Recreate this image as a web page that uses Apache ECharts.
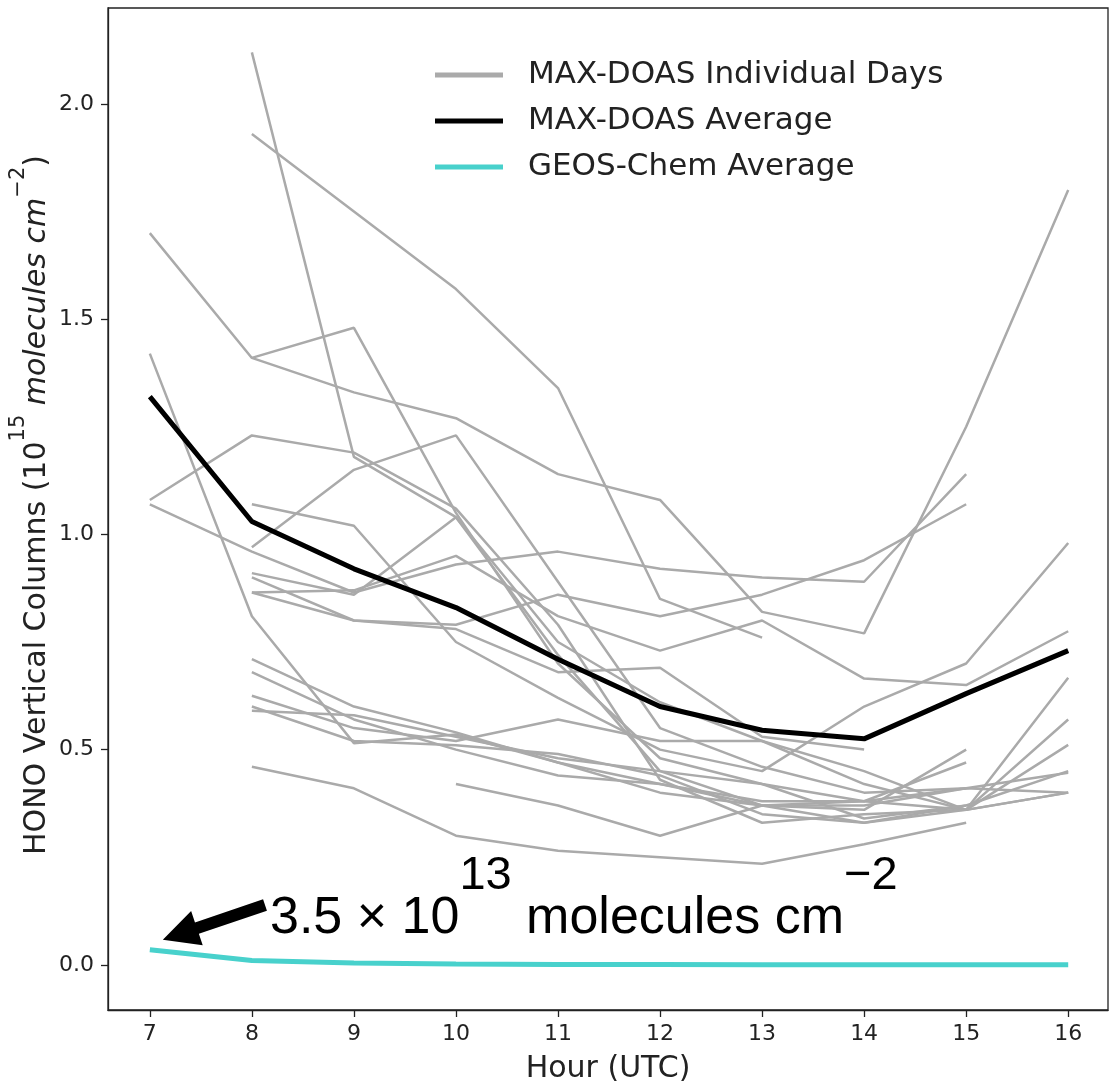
<!DOCTYPE html>
<html>
<head>
<meta charset="utf-8">
<script src="https://cdn.jsdelivr.net/npm/echarts/dist/echarts.min.js"></script>
<style>
  html, body { margin: 0; padding: 0; background: #fff; }
  #main { width: 1112px; height: 1085px; }
</style>
</head>
<body>
<div id="main"></div>
<script>
// hours on the x axis
const hours = [7, 8, 9, 10, 11, 12, 13, 14, 15, 16];

// individual MAX-DOAS days (null = no data that hour)
const day01 = [1.70, 1.41, 1.33, 1.27, 1.14, 1.08, 0.82, 0.77, 1.25, 1.80];
const day02 = [null, 2.12, 1.18, 1.04, 0.72, 0.45, 0.37, 0.33, 0.37, 0.45];
const day03 = [null, 1.93, 1.75, 1.57, 1.34, 0.85, 0.76, null, null, null];
const day04 = [1.42, 0.81, 0.515, 0.535, 0.47, 0.42, 0.37, 0.38, 0.41, 0.40];
const day05 = [1.08, 1.23, 1.19, 1.06, 0.79, 0.43, 0.33, 0.35, 0.36, 0.57];
const day06 = [1.07, 0.96, 0.865, 0.93, 0.96, 0.92, 0.90, 0.89, 1.14, null];
const day07 = [null, 1.41, 1.48, 1.05, 0.70, 0.48, 0.42, 0.38, 0.36, 0.667];
const day08 = [null, 1.07, 1.02, 0.75, 0.62, 0.50, 0.45, 0.60, 0.70, 0.98];
const day09 = [null, 0.97, 1.15, 1.23, 0.89, 0.55, 0.46, 0.40, 0.41, 0.446];
const day10 = [null, 0.91, 0.86, 1.04, 0.75, 0.61, 0.52, 0.42, 0.36, 0.511];
const day11 = [null, 0.90, 0.80, 0.79, 0.86, 0.81, 0.86, 0.94, 1.07, null];
const day12 = [null, 0.865, 0.87, 0.95, 0.81, 0.73, 0.80, 0.665, 0.65, 0.775];
const day13 = [null, 0.71, 0.60, 0.54, 0.47, 0.40, 0.37, 0.36, 0.50, null];
const day14 = [null, 0.68, 0.57, 0.50, 0.44, 0.42, 0.38, 0.38, 0.47, null];
const day15 = [null, 0.625, 0.55, 0.52, 0.57, 0.52, 0.52, 0.45, 0.36, 0.40];
const day16 = [null, 0.59, 0.58, 0.53, 0.48, 0.45, 0.42, 0.34, 0.37, null];
const day17 = [null, 0.46, 0.41, 0.30, 0.265, 0.25, 0.235, 0.28, 0.33, null];
const day18 = [null, null, null, 0.42, 0.37, 0.30, 0.37, 0.37, 0.41, null];
const day19 = [null, 0.865, 0.80, 0.78, 0.68, 0.69, 0.53, 0.50, null, null];
const day20 = [null, 0.60, 0.52, 0.51, 0.49, 0.44, 0.35, 0.33, 0.36, 0.40];
const days = [day01, day02, day03, day04, day05, day06, day07, day08, day09, day10,
              day11, day12, day13, day14, day15, day16, day17, day18, day19, day20];

const avgValues = [1.32, 1.03, 0.92, 0.83, 0.71, 0.60, 0.545, 0.525, 0.63, 0.73];
const geosValues = [0.035, 0.010, 0.004, 0.002, 0.001, 0.0005, 0.0003, 0.0002, 0.0001, 0.0001];

const xTicks = [7, 8, 9, 10, 11, 12, 13, 14, 15, 16];
const yTicks = [0, 0.5, 1.0, 1.5, 2.0];

const FONT = 'DejaVu Sans';
const GRAY = '#aaaaaa';
const TURQ = '#48d1cc';

function pairs(vals) {
    return hours.map((h, i) => [h, vals[i]]).filter(p => p[1] !== null);
}

let chart = echarts.init(document.getElementById('main'));

let series = days.map(d => ({
    name: 'MAX-DOAS Individual Days',
    type: 'line',
    data: pairs(d),
    showSymbol: false,
    silent: true,
    lineStyle: { color: GRAY, width: 2.5 },
    itemStyle: { color: GRAY },
    z: 2
}));
series.push({
    name: 'MAX-DOAS Average',
    type: 'line',
    data: pairs(avgValues),
    showSymbol: false,
    lineStyle: { color: '#000', width: 5 },
    itemStyle: { color: '#000' },
    z: 3
});
series.push({
    name: 'GEOS-Chem Average',
    type: 'line',
    data: pairs(geosValues),
    showSymbol: false,
    lineStyle: { color: TURQ, width: 5 },
    itemStyle: { color: TURQ },
    z: 4
});

let option = {
    animation: false,
    grid: {
        left: 108, top: 8, right: 4, bottom: 75,
        outerBoundsMode: 'none',
        containLabel: false,
        show: true, borderColor: '#222', borderWidth: 1.3
    },
    legend: {
        orient: 'vertical',
        left: 430, top: 54,
        icon: 'rect',
        itemWidth: 68, itemHeight: 5,
        itemGap: 14,
        data: ['MAX-DOAS Individual Days', 'MAX-DOAS Average', 'GEOS-Chem Average'],
        textStyle: { fontFamily: FONT, fontSize: 31, color: '#222', lineHeight: 32, padding: [0, 0, 0, 20] }
    },
    xAxis: {
        type: 'value',
        min: 6.59, max: 16.39,
        name: 'Hour (UTC)',
        nameLocation: 'middle',
        nameGap: 44,
        nameTextStyle: { fontFamily: FONT, fontSize: 30, color: '#222' },
        axisLine: { show: true, onZero: false, lineStyle: { color: '#222', width: 1.3 } },
        axisTick: { show: true, customValues: xTicks, length: 7, lineStyle: { color: '#222', width: 1.3 } },
        axisLabel: { customValues: xTicks, fontFamily: FONT, fontSize: 22, color: '#222', margin: 13 },
        splitLine: { show: false }
    },
    yAxis: {
        type: 'value',
        min: -0.105, max: 2.223,
        axisLine: { show: true, onZero: false, lineStyle: { color: '#222', width: 1.3 } },
        axisTick: { show: true, customValues: yTicks, length: 7, lineStyle: { color: '#222', width: 1.3 } },
        axisLabel: {
            customValues: yTicks, fontFamily: FONT, fontSize: 22, color: '#222', margin: 14,
            formatter: v => v.toFixed(1)
        },
        splitLine: { show: false }
    },
    series: series
};
chart.setOption(option);

// arrow pointing at the first GEOS-Chem point
let tip = chart.convertToPixel({ seriesIndex: series.length - 1 }, [hours[0], geosValues[0]]);
let T = [tip[0] + 13, tip[1] - 10];
let S = [265, 905];
let dx = S[0] - T[0], dy = S[1] - T[1];
let len = Math.sqrt(dx * dx + dy * dy);
let u = [dx / len, dy / len], n = [-u[1], u[0]];
let hl = 36, hw = 18, sw = 6;
function pt(base, a, b) { return [base[0] + u[0] * a + n[0] * b, base[1] + u[1] * a + n[1] * b]; }
let arrowPts = [T, pt(T, hl, hw), pt(T, hl, sw), pt(S, 0, sw), pt(S, 0, -sw), pt(T, hl, -sw), pt(T, hl, -hw)];

chart.setOption({
    graphic: [
        {
            type: 'polygon',
            shape: { points: arrowPts },
            style: { fill: '#000' },
            z: 10
        },
        {
            type: 'text',
            x: 270, y: 853,
            z: 10,
            style: {
                text: '{a|3.5 × 10}{s|13}{a| molecules cm}{s|−2}',
                verticalAlign: 'top',
                rich: {
                    a: { fontFamily: 'Liberation Sans', fontSize: 52, lineHeight: 92, verticalAlign: 'bottom', fill: '#000' },
                    s: { fontFamily: 'Liberation Sans', fontSize: 47, verticalAlign: 'top', fill: '#000' }
                }
            }
        },
        {
            type: 'text',
            x: 30, y: 505,
            rotation: Math.PI / 2,
            z: 10,
            style: {
                text: '{n|HONO Vertical Columns (10}{s|15}{i| molecules cm}{s|−2}{n|)}',
                align: 'center',
                verticalAlign: 'middle',
                rich: {
                    n: { fontFamily: FONT, fontSize: 30, lineHeight: 44, verticalAlign: 'bottom', fill: '#222' },
                    i: { fontFamily: FONT, fontSize: 30, fontStyle: 'italic', lineHeight: 44, verticalAlign: 'bottom', fill: '#222' },
                    s: { fontFamily: FONT, fontSize: 21, verticalAlign: 'top', fill: '#222' }
                }
            }
        }
    ]
});
</script>
</body>
</html>
